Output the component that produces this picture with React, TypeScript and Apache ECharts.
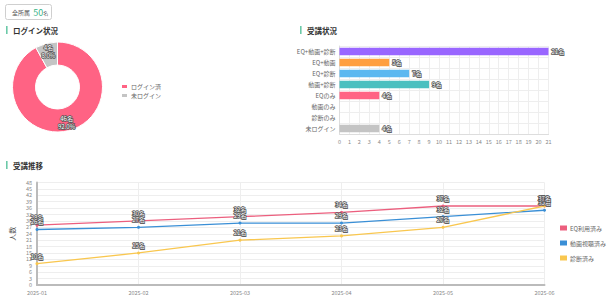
import React, { useEffect, useRef } from "react";
import * as echarts from "echarts";

const FONT = "'Noto Sans CJK JP', 'Noto Sans', sans-serif";

// Login status (donut)
const loginNames = ["ログイン済", "未ログイン"];
const loginValues = [46, 4];
const loginColors = ["#ff6384", "#c4c4c4"];

// Course status (horizontal bars)
const courseCategories = [
  "EQ+動画+診断",
  "EQ+動画",
  "EQ+診断",
  "動画+診断",
  "EQのみ",
  "動画のみ",
  "診断のみ",
  "未ログイン",
];
const courseValues = [21, 5, 7, 9, 4, 0, 0, 4];
const courseColors = ["#9966ff", "#ff9f40", "#5cb8f0", "#4bc0c0", "#ff6384", "#c9cbcf", "#c9cbcf", "#c4c4c4"];

// Monthly trend
const months = ["2025-01", "2025-02", "2025-03", "2025-04", "2025-05", "2025-06"];
const eqUsed = [28, 30, 32, 34, 37, 37];
const videoWatched = [26, 27, 29, 29, 32, 35];
const diagnosed = [10, 15, 21, 23, 27, 37];
const trendNames = ["EQ利用済み", "動画視聴済み", "診断済み"];
const trendColors = ["#ec5f7e", "#3a8fd6", "#f9c74f"];

const totalMembers = 50;

export default function App() {
  const ref = useRef<HTMLDivElement>(null);

  useEffect(() => {
    if (!ref.current) return;
    const chart = echarts.init(ref.current, undefined, { renderer: "svg" });
    const loginTotal = loginValues.reduce((a, b) => a + b, 0);

    const outlinedLabel = {
      fontFamily: FONT,
      fontSize: 6,
      color: "#fff",
      textBorderColor: "#555",
      textBorderWidth: 1.5,
    };

    const sectionTitle = (x: number, y: number, text: string) => ({
      type: "group",
      children: [
        { type: "rect", shape: { x, y: y - 4, width: 1.6, height: 8 }, style: { fill: "#6cc9a8" } },
        {
          type: "text",
          x: x + 7,
          y,
          style: {
            text,
            fontFamily: FONT,
            fontSize: 7.5,
            fontWeight: "bold",
            fill: "#333",
            verticalAlign: "middle",
          },
        },
      ],
    });

    chart.setOption({
      animation: false,
      textStyle: { fontFamily: FONT },
      graphic: [
        {
          type: "rect",
          shape: { x: 5.5, y: 4.5, width: 46, height: 15, r: 2 },
          style: { fill: "#fff", stroke: "#cfcfcf", lineWidth: 1 },
        },
        {
          type: "text",
          x: 12,
          y: 12,
          style: {
            text: `{a|全所属} {b|${totalMembers}}{c|名}`,
            verticalAlign: "middle",
            rich: {
              a: { fontFamily: FONT, fontSize: 6, fill: "#555" },
              b: { fontFamily: FONT, fontSize: 9, fill: "#3bb58a" },
              c: { fontFamily: FONT, fontSize: 5, fill: "#555" },
            },
          },
        },
        sectionTitle(6, 30, "ログイン状況"),
        sectionTitle(300, 30, "受講状況"),
        sectionTitle(6, 165, "受講推移"),
      ],
      legend: [
        {
          data: loginNames,
          orient: "vertical",
          left: 115,
          top: 78,
          itemWidth: 7,
          itemHeight: 5,
          itemGap: 2,
          icon: "rect",
          textStyle: { fontFamily: FONT, fontSize: 6, color: "#666", padding: [0, 0, 0, -2] },
        },
        {
          data: trendNames,
          orient: "vertical",
          left: 555,
          top: 220,
          itemWidth: 7,
          itemHeight: 5,
          itemGap: 9,
          icon: "rect",
          textStyle: { fontFamily: FONT, fontSize: 6, color: "#666", padding: [0, 0, 0, -2] },
        },
      ],
      grid: [
        { left: 339.5, top: 46, width: 209, height: 88, containLabel: false },
        { left: 25.5, top: 182.5, width: 519, height: 102.5, containLabel: false },
      ],
      xAxis: [
        {
          gridIndex: 0,
          type: "value",
          min: 0,
          max: 21,
          interval: 1,
          axisLine: { show: true, lineStyle: { color: "#ddd" } },
          axisTick: { show: false },
          axisLabel: { fontSize: 5.5, color: "#888", margin: 5 },
          splitLine: { lineStyle: { color: "#eee" } },
        },
        {
          gridIndex: 1,
          type: "category",
          data: months,
          boundaryGap: false,
          axisLine: { lineStyle: { color: "#bbb", width: 2 } },
          axisTick: { show: false },
          axisLabel: { fontSize: 5.5, color: "#888", margin: 5 },
          splitLine: { show: true, lineStyle: { color: "#eee" } },
        },
      ],
      yAxis: [
        {
          gridIndex: 0,
          type: "category",
          data: courseCategories,
          inverse: true,
          axisLine: { show: true, lineStyle: { color: "#ddd" } },
          axisTick: { show: false },
          axisLabel: { fontSize: 6, color: "#666", margin: 4 },
          splitLine: { show: true, lineStyle: { color: "#eee" } },
        },
        {
          gridIndex: 1,
          type: "value",
          min: 0,
          max: 48,
          interval: 3,
          name: "人数",
          nameLocation: "middle",
          nameGap: 13,
          nameTextStyle: { fontFamily: FONT, fontSize: 7, color: "#555" },
          axisLine: { show: true, lineStyle: { color: "#bbb", width: 2 } },
          axisTick: { show: false },
          axisLabel: { fontSize: 5.5, color: "#888", margin: 5 },
          splitLine: { lineStyle: { color: "#eee" } },
        },
      ],
      series: [
        {
          type: "pie",
          center: [57.5, 87],
          radius: [22, 45],
          startAngle: 90,
          clockwise: true,
          itemStyle: { borderColor: "#fff", borderWidth: 1 },
          label: {
            show: true,
            position: "inside",
            ...outlinedLabel,
            lineHeight: 8,
            formatter: (p: any) =>
              `${p.value}名\n${((p.value / loginTotal) * 100).toFixed(1)}%`,
          },
          labelLine: { show: false },
          emphasis: { disabled: true },
          data: loginNames.map((name, i) => ({
            name,
            value: loginValues[i],
            itemStyle: { color: loginColors[i] },
          })),
        },
        {
          type: "bar",
          xAxisIndex: 0,
          yAxisIndex: 0,
          barWidth: "66%",
          label: {
            show: true,
            position: "right",
            distance: 3,
            ...outlinedLabel,
            formatter: (p: any) => (p.value > 0 ? `${p.value}名` : ""),
          },
          data: courseValues.map((v, i) => ({ value: v, itemStyle: { color: courseColors[i] } })),
        },
        ...[eqUsed, videoWatched, diagnosed].map((values, i) => ({
          type: "line",
          name: trendNames[i],
          xAxisIndex: 1,
          yAxisIndex: 1,
          data: values,
          color: trendColors[i],
          symbol: "circle",
          symbolSize: 3,
          lineStyle: { width: 1.3, color: trendColors[i] },
          itemStyle: { color: trendColors[i] },
          label: {
            show: true,
            position: "top",
            distance: 3,
            ...outlinedLabel,
            formatter: "{c}名",
          },
        })),
      ],
    });

    return () => chart.dispose();
  }, []);

  return (
    <div
      ref={ref}
      style={{ position: "absolute", left: 0, top: 0, width: 607, height: 299, background: "#fff" }}
    />
  );
}
